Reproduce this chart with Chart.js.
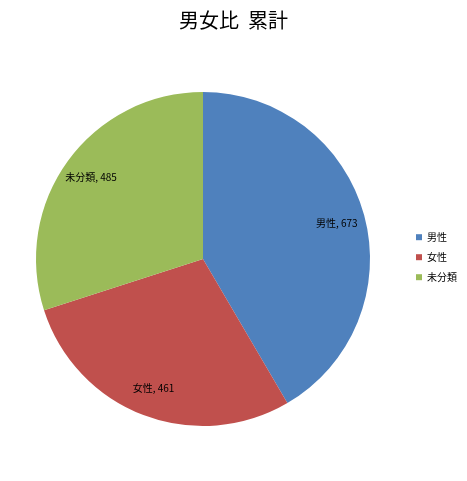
<!DOCTYPE html>
<html>
<head>
<meta charset="utf-8">
<script src="https://cdn.jsdelivr.net/npm/chart.js@4"></script>
<style>
  html, body { margin: 0; padding: 0; background: #fff; }
  #wrap { width: 467px; height: 481px; }
</style>
</head>
<body>
<div id="wrap"><canvas id="pie"></canvas></div>
<script>
const categories = ['男性', '女性', '未分類'];
const counts = [673, 461, 485];
const sliceColors = ['#4F81BD', '#C0504D', '#9BBB59'];
const chartTitle = '男女比  累計';

const FONT = '"Noto Sans CJK JP", "Noto Sans", sans-serif';

// draw "name, value" labels inside each slice
const sliceLabels = {
  id: 'sliceLabels',
  afterDatasetsDraw(chart) {
    const ctx = chart.ctx;
    const meta = chart.getDatasetMeta(0);
    ctx.save();
    ctx.font = '10px ' + FONT;
    ctx.fillStyle = '#000';
    ctx.textAlign = 'center';
    ctx.textBaseline = 'middle';
    meta.data.forEach((arc, i) => {
      const mid = (arc.startAngle + arc.endAngle) / 2;
      const r = arc.outerRadius * 0.83;
      const x = arc.x + Math.cos(mid) * r;
      const y = arc.y + Math.sin(mid) * r;
      ctx.fillText(categories[i] + ', ' + counts[i], x, y);
    });
    ctx.restore();
  }
};

new Chart(document.getElementById('pie'), {
  type: 'pie',
  data: {
    labels: categories,
    datasets: [{
      data: counts,
      backgroundColor: sliceColors,
      borderWidth: 0
    }]
  },
  options: {
    responsive: true,
    maintainAspectRatio: false,
    animation: false,
    layout: { padding: { left: 0, right: 0, top: 0, bottom: 55 } },
    plugins: {
      title: {
        display: true,
        text: chartTitle,
        color: '#000',
        font: { family: FONT, size: 20, weight: 'normal' },
        padding: { top: 8, bottom: 60 }
      },
      legend: {
        position: 'right',
        align: 'center',
        title: { display: true, text: '', padding: { top: 0, bottom: 74 } },
        labels: {
          boxWidth: 6,
          boxHeight: 6,
          padding: 10,
          color: '#000',
          font: { family: FONT, size: 10 }
        }
      },
      tooltip: { enabled: false }
    }
  },
  plugins: [sliceLabels]
});
</script>
</body>
</html>
